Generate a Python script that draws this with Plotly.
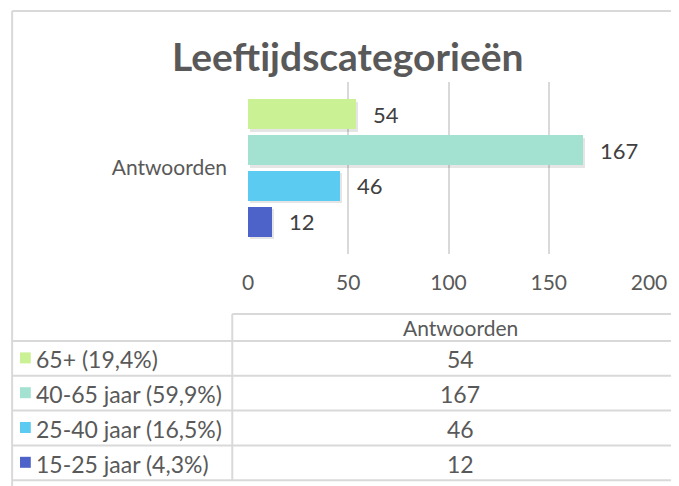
import plotly.graph_objects as go

# ---------------- data ----------------
series_names = ["15-25 jaar", "25-40 jaar", "40-65 jaar", "65+"]
series_values = [12, 46, 167, 54]
series_colors = ["#4d63c9", "#5bcbf2", "#a3e2d1", "#caf294"]
category = "Antwoorden"
title_text = "Leeftijdscategorieën"
x_ticks = [0, 50, 100, 150, 200]

total = sum(series_values)
pct_labels = [f"{n} ({v / total * 100:.1f}%)".replace(".", ",") for n, v in zip(series_names, series_values)]

OFF = 8  # page body margin
W, H = 679 - OFF, 486 - OFF
# plot area in screen pixels
SL, SR, ST, SB = 248, 656, 82, 254
PL, PR, PT, PB = SL - OFF, SR - OFF, ST - OFF, SB - OFF


def px(x):
    return (x - SL) / (SR - SL)


def py(y):
    return (SB - y) / (SB - ST)


FONT = "Lato"
TXT = "#595959"
GRID = "#d9d9d9"

fig = go.Figure()
n = len(series_values)
ypos = list(range(n))

# subtle shadows
fig.add_trace(go.Bar(
    x=series_values, y=[i - 0.07 for i in ypos], base=[1.0] * n, orientation="h",
    width=0.84, marker=dict(color="rgba(0,0,0,0.10)", line=dict(width=0)),
    hoverinfo="skip", showlegend=False,
))
fig.add_trace(go.Bar(
    x=series_values, y=ypos, orientation="h", width=0.84,
    marker=dict(color=series_colors, line=dict(width=0)),
    showlegend=False,
))

annotations = []
for i, v in enumerate(series_values):
    annotations.append(dict(x=v, y=i, xref="x", yref="y", text=str(v), showarrow=False,
                            xanchor="left", yanchor="middle", xshift=15,
                            font=dict(family=FONT, size=22, color="#404040")))

# ---------------- data table ----------------
row_top = 341
row_h = 34.8
table_rows = list(reversed(range(n)))  # top row = last series
shapes = []
# chart outer border (left + top)
shapes.append(dict(type="line", xref="paper", yref="paper", x0=px(8), x1=px(8), y0=py(11), y1=py(500),
                   line=dict(color=GRID, width=2)))
shapes.append(dict(type="line", xref="paper", yref="paper", x0=px(8), x1=px(700), y0=py(11), y1=py(11),
                   line=dict(color=GRID, width=2)))
# header
shapes.append(dict(type="line", xref="paper", yref="paper", x0=px(232), x1=px(700), y0=py(314), y1=py(314),
                   line=dict(color=GRID, width=2)))
shapes.append(dict(type="line", xref="paper", yref="paper", x0=px(232), x1=px(232), y0=py(314),
                   y1=py(row_top + n * row_h), line=dict(color=GRID, width=2)))
for k in range(n + 1):
    yy = row_top + k * row_h
    shapes.append(dict(type="line", xref="paper", yref="paper", x0=px(8), x1=px(700), y0=py(yy), y1=py(yy),
                       line=dict(color=GRID, width=2)))
annotations.append(dict(x=px(464), y=py(327), xref="paper", yref="paper", text=category, showarrow=False,
                        xanchor="center", yanchor="middle", font=dict(family=FONT, size=21, color=TXT)))
for r, idx in enumerate(table_rows):
    cy = row_top + r * row_h + row_h / 2
    shapes.append(dict(type="rect", xref="paper", yref="paper", x0=px(16), x1=px(27), y0=py(cy + 5), y1=py(cy - 6),
                       fillcolor=series_colors[idx], line=dict(width=0)))
    annotations.append(dict(x=px(30), y=py(cy + 1), xref="paper", yref="paper", text=pct_labels[idx],
                            showarrow=False, xanchor="left", yanchor="middle",
                            font=dict(family=FONT, size=23, color=TXT)))
    annotations.append(dict(x=px(464), y=py(cy + 1), xref="paper", yref="paper", text=str(series_values[idx]),
                            showarrow=False, xanchor="center", yanchor="middle",
                            font=dict(family=FONT, size=23, color=TXT)))

annotations.append(dict(x=px(350), y=py(56), xref="paper", yref="paper", text=f"<b>{title_text}</b>",
                        showarrow=False, xanchor="center", yanchor="middle",
                        font=dict(family=FONT, size=39, color=TXT)))

fig.update_layout(
    width=W, height=H,
    margin=dict(l=PL, r=W - PR, t=PT, b=H - PB, pad=0),
    paper_bgcolor="white", plot_bgcolor="white",
    barmode="overlay",
    bargap=0,
    xaxis=dict(range=[0, 200], tickvals=x_ticks, showgrid=True, gridcolor=GRID, gridwidth=1.5,
               zeroline=False, showline=False, ticks="", ticklabelstandoff=14,
               tickfont=dict(family=FONT, size=21, color=TXT), fixedrange=True),
    yaxis=dict(range=[-0.9, 3.9], tickvals=[(n - 1) / 2], ticktext=[category], showgrid=False,
               zeroline=False, showline=False, ticks="", ticklabelstandoff=20,
               tickfont=dict(family=FONT, size=21, color=TXT), fixedrange=True),
    shapes=shapes,
    annotations=annotations,
    showlegend=False,
)

fig.write_html("out.html")
